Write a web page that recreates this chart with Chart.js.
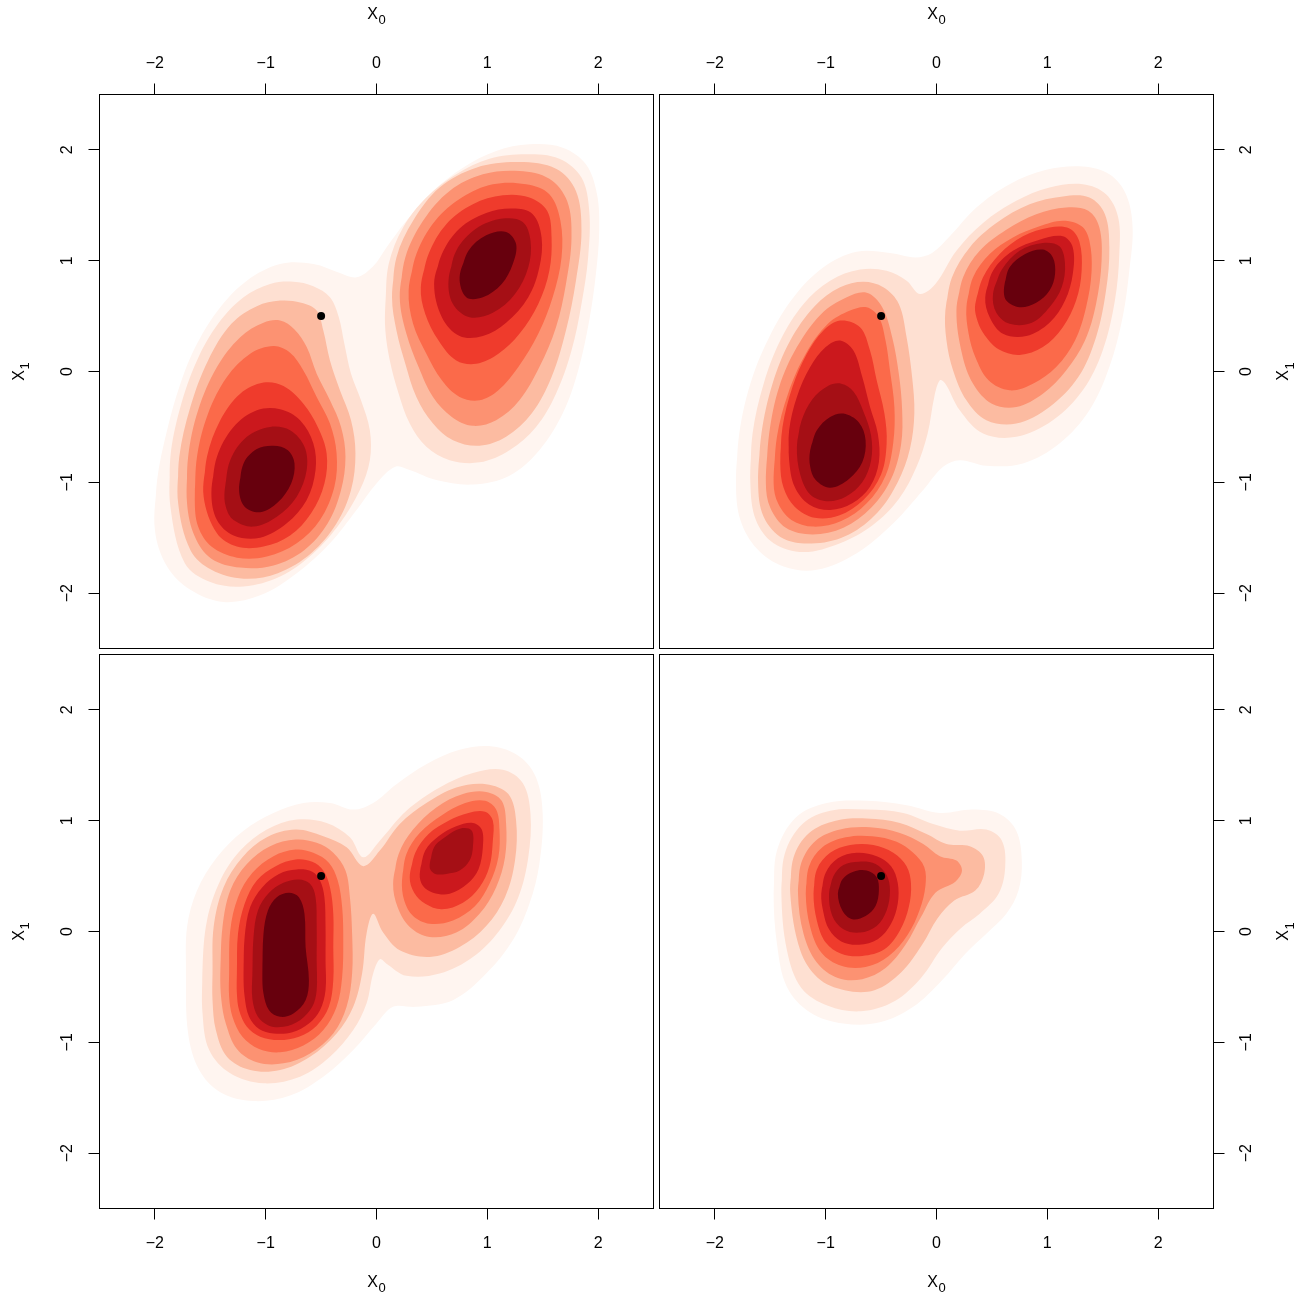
<!DOCTYPE html>
<html>
<head>
<meta charset="utf-8">
<script src="https://cdn.jsdelivr.net/npm/chart.js@4.4.1/dist/chart.umd.min.js"></script>
<style>
  html, body { margin: 0; padding: 0; background: #ffffff; }
  #wrap { position: relative; width: 1301px; height: 1296px; }
  #wrap canvas { position: absolute; left: 0; top: 0; }
</style>
</head>
<body>
<div id="wrap">
  <canvas id="panelTL" width="1301" height="1296"></canvas>
  <canvas id="panelTR" width="1301" height="1296"></canvas>
  <canvas id="panelBL" width="1301" height="1296"></canvas>
  <canvas id="panelBR" width="1301" height="1296"></canvas>
</div>
<script>
// ---- density bands: 9 levels, lightest (1) to darkest (9) ----
const levelColors = ['#FFF5F0', '#FEE0D2', '#FCBBA1', '#FC9272', '#FB6A4A', '#EF3B2C', '#CB181D', '#A50F15', '#67000D'];
const tickValues = [-2, -1, 0, 1, 2];
const axisRange = [-2.5, 2.5];
const markerPoint = [[-0.5, 0.5]];
const xTitle = ['X', '0'];   // main letter, subscript
const yTitle = ['X', '1'];

// ---- panel 1 (top left): contour outlines per level, [x0, x1] ----
const tl1 = [
  [[-2.00,-1.43],[-1.98,-0.98],[-1.89,-0.53],[-1.77,-0.11],[-1.62,0.25],[-1.41,0.58],[-1.17,0.82],[-0.87,0.97],[-0.57,0.97],[-0.33,0.89],[-0.18,0.85],[-0.03,0.95],[0.09,1.12],[0.27,1.36],[0.51,1.63],[0.78,1.84],[1.08,1.99],[1.38,2.05],[1.68,2.02],[1.89,1.87],[1.99,1.60],[2.01,1.27],[1.98,0.88],[1.92,0.46],[1.82,0.01],[1.68,-0.38],[1.47,-0.71],[1.20,-0.94],[0.87,-1.02],[0.54,-0.98],[0.30,-0.89],[0.17,-0.86],[0.00,-1.01],[-0.18,-1.25],[-0.42,-1.55],[-0.72,-1.82],[-1.05,-2.02],[-1.38,-2.08],[-1.68,-1.97],[-1.89,-1.76]]
];
const tl2 = [
  [[-1.86,-1.22],[-1.86,-0.77],[-1.77,-0.32],[-1.62,0.10],[-1.43,0.43],[-1.20,0.67],[-0.96,0.79],[-0.75,0.81],[-0.57,0.77],[-0.42,0.67],[-0.34,0.49],[-0.29,0.25],[-0.23,-0.02],[-0.14,-0.26],[-0.06,-0.53],[-0.06,-0.80],[-0.15,-1.07],[-0.33,-1.37],[-0.57,-1.64],[-0.87,-1.85],[-1.20,-1.94],[-1.50,-1.90],[-1.73,-1.73]],
  [[0.08,0.61],[0.11,0.97],[0.24,1.30],[0.45,1.57],[0.72,1.78],[1.02,1.92],[1.35,1.96],[1.65,1.92],[1.85,1.75],[1.92,1.45],[1.91,1.03],[1.85,0.61],[1.76,0.19],[1.62,-0.20],[1.44,-0.50],[1.20,-0.71],[0.93,-0.82],[0.66,-0.80],[0.45,-0.68],[0.30,-0.47],[0.20,-0.20],[0.12,0.10],[0.08,0.37]]
];
const tl3 = [
  [[-1.79,-1.19],[-1.78,-0.77],[-1.68,-0.32],[-1.52,0.10],[-1.31,0.43],[-1.08,0.59],[-0.87,0.64],[-0.68,0.62],[-0.54,0.55],[-0.48,0.37],[-0.42,0.10],[-0.33,-0.17],[-0.23,-0.44],[-0.19,-0.74],[-0.23,-1.07],[-0.36,-1.37],[-0.59,-1.64],[-0.89,-1.82],[-1.20,-1.87],[-1.49,-1.79],[-1.68,-1.61]],
  [[0.14,0.67],[0.18,1.03],[0.33,1.36],[0.57,1.66],[0.90,1.84],[1.29,1.89],[1.62,1.83],[1.80,1.63],[1.85,1.27],[1.80,0.82],[1.71,0.37],[1.58,-0.05],[1.40,-0.38],[1.17,-0.59],[0.93,-0.67],[0.69,-0.62],[0.51,-0.47],[0.36,-0.23],[0.26,0.07],[0.18,0.37]]
];
const tl4 = [
  [[-1.71,-1.19],[-1.70,-0.77],[-1.61,-0.35],[-1.44,0.04],[-1.23,0.31],[-1.02,0.44],[-0.87,0.46],[-0.74,0.38],[-0.63,0.22],[-0.54,-0.02],[-0.42,-0.26],[-0.32,-0.50],[-0.28,-0.77],[-0.32,-1.07],[-0.44,-1.37],[-0.65,-1.61],[-0.93,-1.75],[-1.23,-1.77],[-1.49,-1.69],[-1.64,-1.49]],
  [[0.21,0.67],[0.26,1.03],[0.42,1.36],[0.66,1.63],[0.96,1.78],[1.29,1.81],[1.56,1.74],[1.72,1.54],[1.76,1.21],[1.71,0.79],[1.62,0.40],[1.47,0.04],[1.29,-0.26],[1.08,-0.44],[0.87,-0.49],[0.68,-0.41],[0.51,-0.23],[0.38,0.04],[0.27,0.34]]
];
const tl5 = [
  [[-1.64,-1.16],[-1.62,-0.77],[-1.52,-0.38],[-1.35,-0.05],[-1.14,0.16],[-0.93,0.23],[-0.78,0.17],[-0.66,0.01],[-0.54,-0.23],[-0.42,-0.47],[-0.36,-0.74],[-0.38,-1.04],[-0.51,-1.34],[-0.72,-1.55],[-0.99,-1.67],[-1.26,-1.68],[-1.49,-1.58],[-1.61,-1.40]],
  [[0.29,0.73],[0.36,1.06],[0.53,1.36],[0.77,1.57],[1.05,1.69],[1.35,1.69],[1.56,1.60],[1.66,1.36],[1.67,1.03],[1.59,0.67],[1.46,0.34],[1.28,0.04],[1.10,-0.17],[0.93,-0.26],[0.75,-0.23],[0.59,-0.08],[0.45,0.16],[0.33,0.43]]
];
const tl6 = [
  [[-1.56,-1.13],[-1.53,-0.77],[-1.41,-0.44],[-1.23,-0.20],[-1.02,-0.10],[-0.84,-0.13],[-0.66,-0.29],[-0.53,-0.50],[-0.45,-0.74],[-0.47,-1.01],[-0.59,-1.28],[-0.78,-1.48],[-1.02,-1.58],[-1.26,-1.58],[-1.44,-1.46]],
  [[0.40,0.76],[0.47,1.06],[0.63,1.33],[0.87,1.51],[1.14,1.59],[1.38,1.57],[1.54,1.45],[1.58,1.21],[1.56,0.91],[1.46,0.61],[1.29,0.34],[1.10,0.16],[0.90,0.07],[0.72,0.10],[0.56,0.28],[0.44,0.52]]
];
const tl7 = [
  [[-1.49,-1.10],[-1.44,-0.77],[-1.29,-0.50],[-1.08,-0.35],[-0.87,-0.34],[-0.69,-0.44],[-0.57,-0.65],[-0.55,-0.89],[-0.63,-1.16],[-0.81,-1.37],[-1.05,-1.50],[-1.29,-1.48],[-1.44,-1.34]],
  [[0.52,0.79],[0.59,1.06],[0.75,1.29],[0.99,1.43],[1.23,1.47],[1.41,1.42],[1.49,1.21],[1.47,0.94],[1.37,0.67],[1.17,0.44],[0.96,0.32],[0.75,0.32],[0.59,0.49]]
];
const tl8 = [
  [[-1.37,-1.07],[-1.32,-0.80],[-1.17,-0.59],[-0.96,-0.50],[-0.78,-0.53],[-0.65,-0.68],[-0.63,-0.89],[-0.72,-1.13],[-0.90,-1.31],[-1.11,-1.40],[-1.29,-1.34],[-1.36,-1.22]],
  [[0.65,0.82],[0.72,1.09],[0.90,1.29],[1.14,1.38],[1.32,1.35],[1.39,1.18],[1.37,0.94],[1.25,0.70],[1.05,0.53],[0.84,0.49],[0.69,0.61]]
];
const tl9 = [
  [[-1.24,-1.07],[-1.20,-0.83],[-1.08,-0.70],[-0.93,-0.67],[-0.80,-0.71],[-0.74,-0.83],[-0.77,-1.01],[-0.89,-1.18],[-1.05,-1.27],[-1.19,-1.22]],
  [[0.75,0.85],[0.83,1.09],[0.99,1.23],[1.17,1.26],[1.26,1.15],[1.23,0.97],[1.13,0.79],[0.96,0.67],[0.81,0.67]]
];

// ---- panel 2 (top right) ----
const tr1 = [
  [[-1.81,-1.01],[-1.78,-0.56],[-1.68,-0.11],[-1.51,0.31],[-1.29,0.67],[-1.02,0.94],[-0.72,1.08],[-0.42,1.07],[-0.19,1.03],[-0.04,1.07],[0.12,1.22],[0.36,1.48],[0.66,1.69],[0.99,1.82],[1.32,1.85],[1.56,1.78],[1.71,1.60],[1.77,1.30],[1.74,0.91],[1.68,0.49],[1.56,0.04],[1.38,-0.35],[1.11,-0.65],[0.78,-0.83],[0.45,-0.85],[0.21,-0.80],[0.06,-0.86],[-0.12,-1.07],[-0.39,-1.37],[-0.72,-1.64],[-1.08,-1.79],[-1.38,-1.76],[-1.62,-1.60],[-1.77,-1.34]]
];
const tr2 = [
  [[-1.68,-1.01],[-1.66,-0.56],[-1.56,-0.11],[-1.41,0.28],[-1.20,0.61],[-0.96,0.82],[-0.69,0.92],[-0.45,0.91],[-0.27,0.82],[-0.15,0.70],[-0.01,0.79],[0.18,1.09],[0.42,1.34],[0.72,1.54],[1.02,1.66],[1.32,1.69],[1.53,1.60],[1.64,1.39],[1.65,1.06],[1.61,0.64],[1.50,0.19],[1.32,-0.17],[1.05,-0.44],[0.72,-0.59],[0.42,-0.56],[0.21,-0.35],[0.08,-0.11],[0.03,-0.08],[-0.02,-0.23],[-0.08,-0.56],[-0.18,-0.86],[-0.34,-1.15],[-0.58,-1.39],[-0.87,-1.55],[-1.20,-1.63],[-1.47,-1.55],[-1.63,-1.34]]
];
const tr3 = [
  [[-1.61,-1.01],[-1.58,-0.56],[-1.48,-0.11],[-1.32,0.28],[-1.10,0.59],[-0.87,0.76],[-0.66,0.81],[-0.48,0.76],[-0.34,0.61],[-0.27,0.31],[-0.22,-0.05],[-0.20,-0.38],[-0.24,-0.70],[-0.35,-1.00],[-0.53,-1.27],[-0.79,-1.47],[-1.09,-1.55],[-1.38,-1.51],[-1.56,-1.31]],
  [[0.08,0.55],[0.14,0.85],[0.30,1.12],[0.54,1.34],[0.84,1.51],[1.14,1.58],[1.38,1.57],[1.52,1.42],[1.56,1.12],[1.53,0.73],[1.44,0.31],[1.28,-0.05],[1.02,-0.32],[0.72,-0.47],[0.45,-0.44],[0.27,-0.26],[0.15,0.01],[0.09,0.28]]
];
const tr4 = [
  [[-1.54,-1.01],[-1.51,-0.56],[-1.42,-0.14],[-1.26,0.22],[-1.04,0.52],[-0.81,0.67],[-0.63,0.71],[-0.49,0.58],[-0.40,0.31],[-0.34,-0.02],[-0.31,-0.35],[-0.32,-0.66],[-0.41,-0.97],[-0.59,-1.23],[-0.84,-1.41],[-1.12,-1.47],[-1.36,-1.41],[-1.50,-1.23]],
  [[0.18,0.55],[0.24,0.85],[0.39,1.09],[0.63,1.28],[0.90,1.42],[1.17,1.48],[1.37,1.45],[1.47,1.30],[1.49,1.00],[1.44,0.61],[1.34,0.28],[1.17,0.01],[0.96,-0.20],[0.72,-0.32],[0.50,-0.29],[0.33,-0.11],[0.23,0.16]]
];
const tr5 = [
  [[-1.47,-1.01],[-1.44,-0.59],[-1.34,-0.20],[-1.18,0.16],[-0.98,0.43],[-0.78,0.55],[-0.63,0.58],[-0.52,0.49],[-0.46,0.28],[-0.42,0.01],[-0.38,-0.32],[-0.39,-0.64],[-0.46,-0.94],[-0.63,-1.19],[-0.86,-1.35],[-1.11,-1.40],[-1.31,-1.34],[-1.43,-1.19]],
  [[0.27,0.58],[0.33,0.85],[0.48,1.06],[0.69,1.21],[0.93,1.31],[1.14,1.36],[1.31,1.31],[1.38,1.18],[1.40,0.91],[1.35,0.58],[1.25,0.28],[1.08,0.04],[0.87,-0.11],[0.66,-0.17],[0.47,-0.08],[0.35,0.13],[0.29,0.34]]
];
const tr6 = [
  [[-1.41,-0.83],[-1.39,-0.50],[-1.30,-0.14],[-1.17,0.16],[-1.02,0.37],[-0.87,0.46],[-0.69,0.40],[-0.60,0.19],[-0.54,-0.08],[-0.47,-0.38],[-0.45,-0.65],[-0.50,-0.93],[-0.66,-1.16],[-0.88,-1.30],[-1.10,-1.32],[-1.28,-1.22],[-1.38,-1.05]],
  [[0.35,0.61],[0.42,0.85],[0.57,1.06],[0.78,1.22],[1.02,1.30],[1.20,1.29],[1.29,1.17],[1.31,0.91],[1.26,0.64],[1.14,0.40],[0.96,0.22],[0.75,0.15],[0.56,0.20],[0.42,0.35],[0.36,0.49]]
];
const tr7 = [
  [[-1.33,-0.80],[-1.33,-0.53],[-1.26,-0.23],[-1.14,0.04],[-1.00,0.22],[-0.87,0.28],[-0.75,0.19],[-0.67,-0.05],[-0.60,-0.32],[-0.53,-0.56],[-0.52,-0.82],[-0.60,-1.04],[-0.76,-1.19],[-0.96,-1.25],[-1.15,-1.20],[-1.28,-1.04]],
  [[0.44,0.67],[0.51,0.91],[0.69,1.09],[0.93,1.19],[1.14,1.22],[1.23,1.12],[1.23,0.88],[1.16,0.64],[1.02,0.44],[0.81,0.32],[0.60,0.34],[0.48,0.49]]
];
const tr8 = [
  [[-1.26,-0.68],[-1.22,-0.45],[-1.12,-0.25],[-0.98,-0.13],[-0.86,-0.11],[-0.75,-0.18],[-0.66,-0.36],[-0.59,-0.58],[-0.59,-0.80],[-0.67,-1.00],[-0.82,-1.13],[-0.99,-1.17],[-1.14,-1.11],[-1.23,-0.93]],
  [[0.51,0.70],[0.59,0.92],[0.75,1.09],[0.96,1.16],[1.11,1.13],[1.16,0.97],[1.13,0.76],[1.02,0.58],[0.86,0.44],[0.66,0.43],[0.54,0.53]]
];
const tr9 = [
  [[-1.14,-0.71],[-1.08,-0.53],[-0.96,-0.41],[-0.84,-0.38],[-0.70,-0.46],[-0.64,-0.62],[-0.67,-0.82],[-0.79,-0.97],[-0.96,-1.05],[-1.09,-0.98],[-1.14,-0.86]],
  [[0.61,0.76],[0.66,0.94],[0.80,1.06],[0.96,1.10],[1.05,1.03],[1.07,0.88],[1.02,0.73],[0.90,0.62],[0.75,0.58],[0.63,0.64]]
];

// ---- panel 3 (bottom left) ----
const bl1 = [
  [[-1.72,-0.38],[-1.71,0.04],[-1.62,0.37],[-1.44,0.67],[-1.20,0.91],[-0.93,1.07],[-0.66,1.16],[-0.42,1.16],[-0.21,1.10],[-0.03,1.16],[0.18,1.33],[0.45,1.51],[0.75,1.64],[1.05,1.67],[1.29,1.58],[1.44,1.39],[1.50,1.06],[1.47,0.61],[1.38,0.25],[1.23,-0.08],[0.99,-0.38],[0.69,-0.62],[0.36,-0.68],[0.15,-0.68],[0.00,-0.83],[-0.21,-1.07],[-0.48,-1.31],[-0.78,-1.48],[-1.11,-1.53],[-1.41,-1.45],[-1.60,-1.25],[-1.70,-0.92]]
];
const bl2 = [
  [[-1.57,-0.74],[-1.57,-0.32],[-1.53,0.10],[-1.41,0.46],[-1.23,0.73],[-0.99,0.92],[-0.72,1.01],[-0.45,0.98],[-0.24,0.85],[-0.12,0.67],[0.03,0.82],[0.27,1.09],[0.57,1.30],[0.87,1.43],[1.14,1.46],[1.32,1.34],[1.39,1.06],[1.37,0.67],[1.28,0.31],[1.11,0.01],[0.87,-0.23],[0.57,-0.38],[0.27,-0.40],[0.09,-0.29],[0.03,-0.25],[-0.03,-0.38],[-0.09,-0.65],[-0.21,-0.89],[-0.42,-1.13],[-0.69,-1.31],[-1.02,-1.37],[-1.32,-1.28],[-1.51,-1.07]]
];
const bl3 = [
  [[-1.48,-0.38],[-1.47,0.04],[-1.38,0.40],[-1.21,0.67],[-0.99,0.85],[-0.73,0.92],[-0.48,0.86],[-0.27,0.76],[-0.12,0.59],[0.03,0.73],[0.21,0.97],[0.45,1.16],[0.72,1.30],[0.99,1.33],[1.19,1.24],[1.26,1.00],[1.25,0.64],[1.16,0.31],[0.99,0.05],[0.75,-0.14],[0.48,-0.23],[0.21,-0.17],[0.06,-0.01],[-0.03,0.16],[-0.09,-0.02],[-0.13,-0.38],[-0.21,-0.68],[-0.36,-0.92],[-0.60,-1.13],[-0.87,-1.25],[-1.14,-1.25],[-1.35,-1.13],[-1.45,-0.89],[-1.48,-0.62]]
];
const bl4 = [
  [[-1.41,-0.38],[-1.39,0.04],[-1.32,0.37],[-1.17,0.61],[-0.96,0.77],[-0.73,0.83],[-0.54,0.80],[-0.39,0.71],[-0.28,0.55],[-0.24,0.31],[-0.22,-0.02],[-0.22,-0.38],[-0.27,-0.68],[-0.39,-0.92],[-0.60,-1.10],[-0.84,-1.19],[-1.08,-1.18],[-1.26,-1.06],[-1.36,-0.83],[-1.40,-0.62]],
  [[0.15,0.43],[0.20,0.70],[0.33,0.92],[0.54,1.12],[0.78,1.24],[0.99,1.26],[1.13,1.18],[1.17,0.97],[1.16,0.67],[1.08,0.40],[0.93,0.16],[0.72,-0.01],[0.48,-0.05],[0.30,0.04],[0.19,0.22]]
];
const bl5 = [
  [[-1.33,-0.38],[-1.32,0.01],[-1.25,0.31],[-1.12,0.53],[-0.93,0.68],[-0.73,0.74],[-0.57,0.71],[-0.43,0.62],[-0.35,0.46],[-0.31,0.22],[-0.30,-0.08],[-0.31,-0.41],[-0.36,-0.68],[-0.48,-0.89],[-0.66,-1.03],[-0.87,-1.09],[-1.06,-1.06],[-1.21,-0.95],[-1.30,-0.77],[-1.33,-0.59]],
  [[0.23,0.46],[0.27,0.70],[0.39,0.89],[0.59,1.05],[0.80,1.16],[0.98,1.18],[1.08,1.10],[1.11,0.92],[1.10,0.67],[1.02,0.43],[0.89,0.23],[0.69,0.10],[0.48,0.07],[0.33,0.14],[0.25,0.28]]
];
const bl6 = [
  [[-1.26,-0.38],[-1.25,-0.02],[-1.19,0.25],[-1.08,0.46],[-0.91,0.59],[-0.73,0.65],[-0.58,0.63],[-0.48,0.55],[-0.42,0.40],[-0.39,0.16],[-0.39,-0.14],[-0.39,-0.44],[-0.43,-0.68],[-0.54,-0.85],[-0.70,-0.95],[-0.88,-0.98],[-1.05,-0.95],[-1.17,-0.86],[-1.24,-0.71],[-1.26,-0.56]],
  [[0.30,0.49],[0.35,0.71],[0.47,0.88],[0.65,1.00],[0.83,1.07],[0.98,1.08],[1.05,1.00],[1.05,0.82],[1.02,0.59],[0.93,0.40],[0.78,0.26],[0.59,0.20],[0.44,0.25],[0.34,0.35]]
];
const bl7 = [
  [[-1.20,-0.38],[-1.19,-0.05],[-1.14,0.22],[-1.03,0.40],[-0.88,0.52],[-0.72,0.56],[-0.58,0.54],[-0.51,0.46],[-0.47,0.31],[-0.46,0.04],[-0.46,-0.26],[-0.46,-0.53],[-0.51,-0.71],[-0.61,-0.83],[-0.76,-0.91],[-0.93,-0.92],[-1.06,-0.88],[-1.15,-0.77],[-1.19,-0.59]],
  [[0.39,0.52],[0.44,0.73],[0.56,0.86],[0.72,0.95],[0.87,0.98],[0.95,0.92],[0.96,0.76],[0.92,0.56],[0.82,0.43],[0.66,0.34],[0.51,0.35],[0.42,0.41]]
];
const bl8 = [
  [[-1.12,-0.38],[-1.11,-0.05],[-1.07,0.19],[-0.97,0.35],[-0.84,0.44],[-0.70,0.47],[-0.60,0.43],[-0.55,0.31],[-0.54,0.04],[-0.54,-0.26],[-0.54,-0.53],[-0.58,-0.68],[-0.69,-0.80],[-0.84,-0.86],[-0.97,-0.85],[-1.07,-0.77],[-1.12,-0.61]],
  [[0.48,0.58],[0.52,0.76],[0.63,0.86],[0.76,0.93],[0.86,0.91],[0.87,0.76],[0.84,0.64],[0.75,0.55],[0.63,0.52],[0.53,0.52]]
];
const bl9 = [
  [[-1.03,-0.38],[-1.02,-0.02],[-0.98,0.19],[-0.90,0.31],[-0.79,0.35],[-0.70,0.31],[-0.65,0.16],[-0.64,-0.14],[-0.61,-0.44],[-0.64,-0.62],[-0.75,-0.74],[-0.87,-0.77],[-0.97,-0.71],[-1.02,-0.56]]
];

// ---- panel 4 (bottom right) ----
const br1 = [
  [[-1.47,0.34],[-1.44,0.73],[-1.27,1.03],[-0.99,1.16],[-0.63,1.18],[-0.27,1.14],[0.03,1.07],[0.33,1.10],[0.57,1.06],[0.72,0.91],[0.77,0.64],[0.74,0.37],[0.63,0.16],[0.45,-0.02],[0.26,-0.20],[0.05,-0.44],[-0.21,-0.68],[-0.51,-0.82],[-0.84,-0.83],[-1.14,-0.73],[-1.35,-0.50],[-1.44,-0.11]]
];
const br2 = [
  [[-1.40,0.34],[-1.37,0.70],[-1.21,0.97],[-0.96,1.09],[-0.63,1.10],[-0.30,1.07],[-0.03,0.97],[0.21,0.91],[0.45,0.92],[0.59,0.82],[0.62,0.58],[0.56,0.34],[0.39,0.16],[0.22,0.03],[0.05,-0.15],[-0.14,-0.42],[-0.38,-0.63],[-0.68,-0.72],[-0.98,-0.67],[-1.22,-0.51],[-1.35,-0.17]]
];
const br3 = [
  [[-1.32,0.34],[-1.29,0.67],[-1.15,0.89],[-0.91,1.00],[-0.63,1.02],[-0.33,0.98],[-0.09,0.88],[0.09,0.79],[0.30,0.77],[0.42,0.68],[0.43,0.52],[0.35,0.37],[0.16,0.28],[0.01,0.12],[-0.13,-0.12],[-0.32,-0.37],[-0.56,-0.53],[-0.83,-0.53],[-1.07,-0.42],[-1.23,-0.17]]
];
const br4 = [
  [[-1.25,0.34],[-1.22,0.62],[-1.09,0.82],[-0.87,0.92],[-0.60,0.94],[-0.33,0.89],[-0.12,0.79],[0.03,0.68],[0.18,0.64],[0.23,0.55],[0.17,0.45],[-0.01,0.35],[-0.14,0.13],[-0.28,-0.12],[-0.46,-0.33],[-0.67,-0.43],[-0.89,-0.42],[-1.08,-0.28],[-1.20,-0.02]]
];
const br5 = [
  [[-1.18,0.34],[-1.15,0.59],[-1.03,0.76],[-0.82,0.85],[-0.58,0.86],[-0.36,0.81],[-0.21,0.71],[-0.11,0.58],[-0.10,0.41],[-0.15,0.20],[-0.26,-0.03],[-0.43,-0.22],[-0.64,-0.32],[-0.86,-0.31],[-1.04,-0.19],[-1.14,0.04]]
];
const br6 = [
  [[-1.11,0.34],[-1.08,0.56],[-0.96,0.71],[-0.78,0.78],[-0.57,0.78],[-0.39,0.71],[-0.27,0.59],[-0.23,0.43],[-0.25,0.22],[-0.33,0.01],[-0.47,-0.16],[-0.67,-0.22],[-0.86,-0.20],[-1.00,-0.10],[-1.08,0.10]]
];
const br7 = [
  [[-1.04,0.34],[-1.00,0.53],[-0.89,0.66],[-0.72,0.71],[-0.54,0.68],[-0.41,0.59],[-0.35,0.44],[-0.35,0.25],[-0.41,0.07],[-0.53,-0.07],[-0.70,-0.12],[-0.86,-0.09],[-0.97,0.02],[-1.02,0.17]]
];
const br8 = [
  [[-0.97,0.34],[-0.93,0.50],[-0.84,0.60],[-0.70,0.63],[-0.55,0.61],[-0.45,0.51],[-0.42,0.37],[-0.45,0.19],[-0.54,0.05],[-0.69,-0.01],[-0.84,0.02],[-0.94,0.14]]
];
const br9 = [
  [[-0.89,0.34],[-0.85,0.47],[-0.75,0.54],[-0.63,0.55],[-0.54,0.49],[-0.52,0.37],[-0.55,0.23],[-0.64,0.14],[-0.76,0.11],[-0.85,0.19]]
];

const topLeftLevels = [tl1, tl2, tl3, tl4, tl5, tl6, tl7, tl8, tl9];
const topRightLevels = [tr1, tr2, tr3, tr4, tr5, tr6, tr7, tr8, tr9];
const bottomLeftLevels = [bl1, bl2, bl3, bl4, bl5, bl6, bl7, bl8, bl9];
const bottomRightLevels = [br1, br2, br3, br4, br5, br6, br7, br8, br9];

// ---- drawing ----
const FONT = "'Liberation Sans', Arial, Helvetica, sans-serif";
Chart.defaults.font.family = FONT;
Chart.defaults.color = '#000';

const formatTick = v => (v < 0 ? '\u2212' + Math.abs(v) : String(v));

// black frame around each panel
const panelFrame = {
  id: 'panelFrame',
  afterDraw(chart) {
    const { ctx, chartArea: a } = chart;
    ctx.save();
    ctx.strokeStyle = '#000';
    ctx.lineWidth = 1;
    ctx.strokeRect(a.left, a.top, a.right - a.left, a.bottom - a.top);
    ctx.restore();
  }
};

// writes a letter with a true lowered subscript, centred on (cx, cy = main baseline)
function drawSubscripted(ctx, parts, cx, cy, vertical) {
  ctx.save();
  ctx.translate(cx, cy);
  if (vertical) ctx.rotate(-Math.PI / 2);
  ctx.fillStyle = '#000';
  ctx.textAlign = 'left';
  ctx.textBaseline = 'alphabetic';
  ctx.font = '16px ' + FONT;
  const wMain = ctx.measureText(parts[0]).width;
  ctx.font = '13px ' + FONT;
  const wSub = ctx.measureText(parts[1]).width;
  const gap = 0.5;
  const x0 = -(wMain + gap + wSub) / 2;
  ctx.font = '16px ' + FONT;
  ctx.fillText(parts[0], x0, 0);
  ctx.font = '13px ' + FONT;
  ctx.fillText(parts[1], x0 + wMain + gap, 5.5);
  ctx.restore();
}

// axis titles placed on the outer side of each panel
const axisTitles = {
  id: 'axisTitles',
  afterDraw(chart, args, opts) {
    const { ctx } = chart;
    const sx = chart.scales.x, sy = chart.scales.y;
    const xc = (sx.left + sx.right) / 2;
    const yc = (sy.top + sy.bottom) / 2;
    if (opts.x === 'top') drawSubscripted(ctx, xTitle, xc, sx.top + 18.5, false);
    else drawSubscripted(ctx, xTitle, xc, sx.bottom - 9.5, false);
    if (opts.y === 'left') drawSubscripted(ctx, yTitle, sy.left + 23.5, yc, true);
    else drawSubscripted(ctx, yTitle, sy.right - 13, yc, true);
  }
};

function levelDatasets(levels) {
  const sets = [];
  levels.forEach((rings, i) => {
    rings.forEach(ring => {
      const closed = ring.concat([ring[0], ring[1]]);
      sets.push({
        data: closed.map(([x, y]) => ({ x, y })),
        showLine: true,
        fill: 'shape',
        backgroundColor: levelColors[i],
        borderColor: 'rgba(0,0,0,0)',
        borderWidth: 0,
        pointRadius: 0,
        pointHoverRadius: 0,
        tension: 0.35,
        order: 20 - i
      });
    });
  });
  sets.push({
    data: markerPoint.map(([x, y]) => ({ x, y })),
    showLine: false,
    pointRadius: 4,
    pointBackgroundColor: '#000',
    pointBorderWidth: 0,
    backgroundColor: '#000',
    borderColor: '#000',
    order: 0
  });
  return sets;
}

function tickGrid() {
  return { display: true, drawOnChartArea: false, drawTicks: true, tickLength: 11, tickWidth: 1, tickColor: '#000', color: '#000', lineWidth: 1 };
}

function xAxis(pos) {
  return {
    type: 'linear', position: pos, min: axisRange[0], max: axisRange[1],
    afterBuildTicks: s => { s.ticks = tickValues.map(v => ({ value: v })); },
    afterFit: s => { s.height = pos === 'top' ? 94.5 : 87.5; },
    grid: tickGrid(),
    border: { display: false },
    ticks: { color: '#000', font: { size: 16 }, padding: pos === 'top' ? 10 : 14, minRotation: 0, maxRotation: 0, autoSkip: false, callback: formatTick },
    title: { display: false }
  };
}

function yAxis(pos) {
  return {
    type: 'linear', position: pos, min: axisRange[0], max: axisRange[1],
    afterBuildTicks: s => { s.ticks = tickValues.map(v => ({ value: v })); },
    afterFit: s => { s.width = pos === 'left' ? 99.5 : 87.5; },
    grid: tickGrid(),
    border: { display: false },
    ticks: { color: '#000', font: { size: 16 }, padding: pos === 'left' ? 12 : 13, minRotation: 90, maxRotation: 90, crossAlign: 'center', autoSkip: false, callback: formatTick },
    title: { display: false }
  };
}

function buildPanel(id, levels, xPos, yPos, padding) {
  new Chart(document.getElementById(id), {
    type: 'line',
    data: { datasets: levelDatasets(levels) },
    options: {
      responsive: false,
      maintainAspectRatio: false,
      animation: false,
      events: [],
      layout: { padding },
      scales: { x: xAxis(xPos), y: yAxis(yPos) },
      plugins: {
        legend: { display: false },
        tooltip: { enabled: false },
        axisTitles: { x: xPos, y: yPos }
      }
    },
    plugins: [panelFrame, axisTitles]
  });
}

buildPanel('panelTL', topLeftLevels, 'top', 'left', { left: 0, top: 0, right: 647.5, bottom: 647.5 });
buildPanel('panelTR', topRightLevels, 'top', 'right', { left: 659.5, top: 0, right: 0, bottom: 647.5 });
buildPanel('panelBL', bottomLeftLevels, 'bottom', 'left', { left: 0, top: 654.5, right: 647.5, bottom: 0 });
buildPanel('panelBR', bottomRightLevels, 'bottom', 'right', { left: 659.5, top: 654.5, right: 0, bottom: 0 });
</script>
</body>
</html>
